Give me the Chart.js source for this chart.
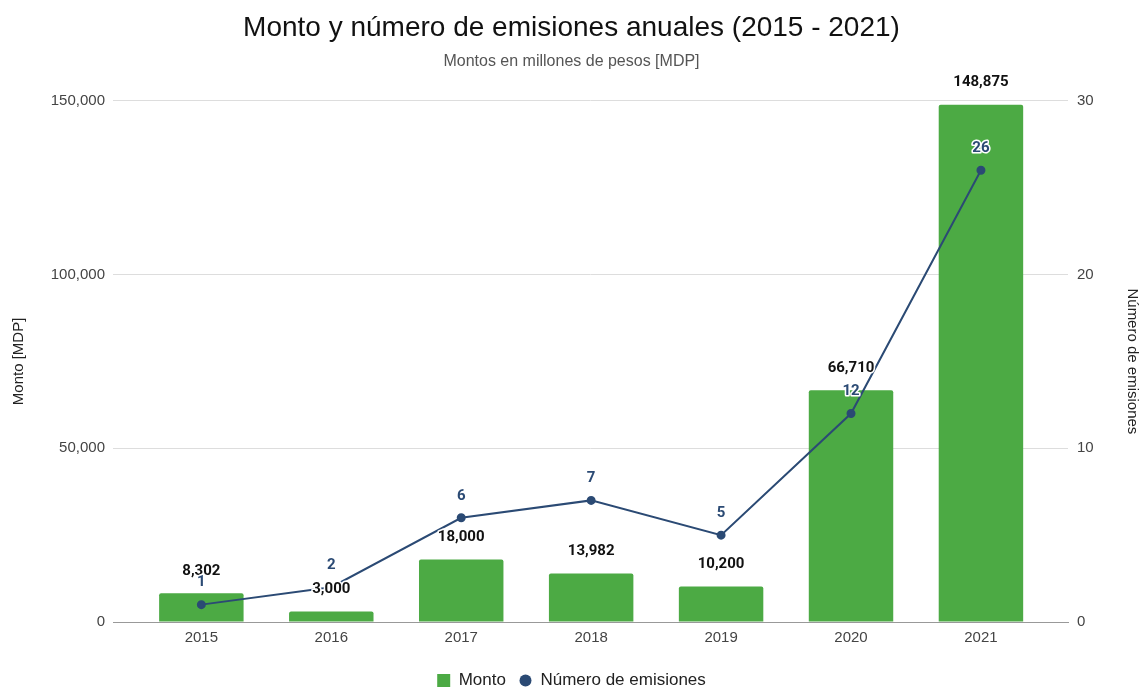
<!DOCTYPE html>
<html>
<head>
<meta charset="utf-8">
<script src="https://cdn.jsdelivr.net/npm/chart.js@4/dist/chart.umd.min.js"></script>
<style>
  html, body { margin: 0; padding: 0; background: #fff; }
  #wrap { width: 1143px; height: 688px; }
</style>
</head>
<body>
<div id="wrap"><canvas id="myChart"></canvas></div>
<script>
// datos
const years = ['2015', '2016', '2017', '2018', '2019', '2020', '2021'];
const monto = [8302, 3000, 18000, 13982, 10200, 66710, 148875];
const emisiones = [1, 2, 6, 7, 5, 12, 26];
const leftTicks = [0, 50000, 100000, 150000];
const rightTicks = [0, 10, 20, 30];

const green = '#4caa44';
const navy = '#2b4a74';
const sans = 'Liberation Sans, Arial, sans-serif';
const axisFont = { family: sans, size: 15 };

// circulo para la leyenda
const dot = document.createElement('canvas');
dot.width = 13; dot.height = 13;
const dctx = dot.getContext('2d');
dctx.fillStyle = navy;
dctx.beginPath();
dctx.arc(6.5, 6.5, 6, 0, Math.PI * 2);
dctx.fill();

// etiquetas encima de barras y puntos
const valueLabels = {
    id: 'valueLabels',
    afterDatasetsDraw(chart) {
        const ctx = chart.ctx;
        ctx.save();
        ctx.textAlign = 'center';
        ctx.textBaseline = 'middle';
        ctx.lineJoin = 'round';
        ctx.font = 'bold 15px Roboto';
        chart.data.datasets.forEach((ds, i) => {
            const meta = chart.getDatasetMeta(i);
            meta.data.forEach((el, j) => {
                const txt = ds.data[j].y.toLocaleString('en-US');
                const y = el.y - 22;
                ctx.strokeStyle = '#fff';
                ctx.lineWidth = 3;
                ctx.strokeText(txt, el.x, y);
                ctx.fillStyle = ds.type === 'line' ? navy : '#111';
                ctx.fillText(txt, el.x, y);
            });
        });
        ctx.restore();
    }
};

const ctx = document.getElementById('myChart');

new Chart(ctx, {
    data: {
        datasets: [{
            type: 'bar',
            label: 'Monto',
            data: monto.map((v, i) => ({ x: i, y: v })),
            backgroundColor: green,
            borderRadius: 2,
            barPercentage: 0.65,
            categoryPercentage: 1,
            pointStyle: 'rect',
            yAxisID: 'y',
            order: 2
        }, {
            type: 'line',
            label: 'Número de emisiones',
            data: emisiones.map((v, i) => ({ x: i, y: v })),
            borderColor: navy,
            backgroundColor: navy,
            borderWidth: 2,
            pointRadius: 3.5,
            pointBackgroundColor: navy,
            tension: 0,
            yAxisID: 'y1',
            order: 1
        }]
    },
    options: {
        responsive: true,
        maintainAspectRatio: false,
        animation: false,
        layout: { padding: { left: 0, right: 0, top: 0, bottom: -11 } },
        plugins: {
            title: {
                display: true,
                text: 'Monto y número de emisiones anuales (2015 - 2021)',
                color: '#111',
                font: { family: sans, size: 28, weight: 'normal' },
                padding: { top: 11, bottom: 0 }
            },
            subtitle: {
                display: true,
                text: 'Montos en millones de pesos [MDP]',
                color: '#555',
                font: { family: sans, size: 16 },
                padding: { top: 7, bottom: 30 }
            },
            legend: {
                position: 'bottom',
                labels: {
                    usePointStyle: true,
                    boxWidth: 13,
                    boxHeight: 13,
                    padding: 13,
                    color: '#222',
                    font: { family: sans, size: 17 },
                    sort: (a, b) => a.datasetIndex - b.datasetIndex,
                    generateLabels(chart) {
                        const items = Chart.defaults.plugins.legend.labels.generateLabels(chart);
                        items.forEach(it => {
                            if (it.datasetIndex === 1) it.pointStyle = dot;
                            else it.pointStyle = 'rect';
                        });
                        return items;
                    }
                }
            },
            tooltip: { enabled: false }
        },
        scales: {
            x: {
                type: 'linear',
                offset: false,
                min: -0.68,
                max: 6.67,
                grid: { display: false, drawTicks: false },
                border: { color: '#999', width: 1 },
                afterFit: s => { s.height = 37; },
                ticks: {
                    stepSize: 1,
                    includeBounds: false,
                    autoSkip: false,
                    maxRotation: 0,
                    padding: 7,
                    color: '#444',
                    font: axisFont,
                    callback: v => years[v] ?? ''
                }
            },
            y: {
                position: 'left',
                min: 0,
                max: 150000,
                afterBuildTicks: s => { s.ticks = leftTicks.map(v => ({ value: v })); },
                afterFit: s => { s.width = 113; },
                grid: { color: '#dddddd', drawTicks: false },
                border: { display: false },
                ticks: {
                    padding: 8,
                    color: '#444',
                    font: axisFont,
                    callback: v => v.toLocaleString('en-US')
                },
                title: {
                    display: true,
                    text: 'Monto [MDP]',
                    color: '#222',
                    font: { family: sans, size: 15 },
                    padding: { top: 10, bottom: 4 }
                }
            },
            y1: {
                position: 'right',
                min: 0,
                max: 30,
                afterBuildTicks: s => { s.ticks = rightTicks.map(v => ({ value: v })); },
                afterFit: s => { s.width = 75; },
                grid: { display: false, drawTicks: false },
                border: { display: false },
                ticks: {
                    padding: 9,
                    color: '#444',
                    font: axisFont
                },
                title: {
                    display: true,
                    text: 'Número de emisiones',
                    color: '#222',
                    font: { family: sans, size: 15 },
                    padding: { top: 2, bottom: 4 }
                }
            }
        }
    },
    plugins: [valueLabels]
});
</script>
</body>
</html>
